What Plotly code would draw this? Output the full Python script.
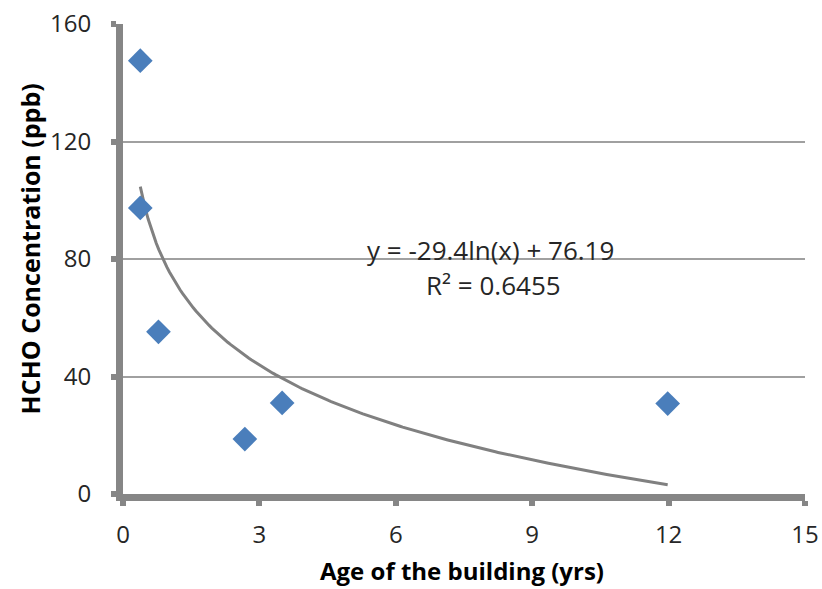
import numpy as np
import plotly.graph_objects as go

# Data
age_yrs = [0.38, 0.38, 0.78, 2.68, 3.5, 11.98]
hcho_ppb = [147.5, 97.4, 55.2, 18.7, 31.0, 30.8]

# Logarithmic trendline coefficients as printed on the chart
trend_a = -29.4
trend_b = 76.19
r_squared = 0.6455

x_ticks = [0, 3, 6, 9, 12, 15]
y_ticks = [0, 40, 80, 120, 160]

x_title = "Age of the building (yrs)"
y_title = "HCHO Concentration (ppb)"

trend_x = np.linspace(min(age_yrs), max(age_yrs), 200)
trend_y = trend_a * np.log(trend_x) + trend_b

AXIS = "#868686"
FONT = "Open Sans"
TXT = "#262626"

fig = go.Figure()
fig.add_trace(go.Scatter(
    x=trend_x, y=trend_y, mode="lines",
    line=dict(color="#808080", width=3), hoverinfo="skip", showlegend=False))
fig.add_trace(go.Scatter(
    x=age_yrs, y=hcho_ppb, mode="markers",
    marker=dict(symbol="diamond", size=19, color="#4A7EBB"),
    showlegend=False))

fig.add_annotation(x=8.09, y=83.0, xref="x", yref="y", showarrow=False,
                   text=f"y = {trend_a}ln(x) + {trend_b}",
                   font=dict(family=FONT, size=26, color=TXT))
fig.add_annotation(x=8.15, y=71.0, xref="x", yref="y", showarrow=False,
                   text=f"R² = {r_squared}",
                   font=dict(family=FONT, size=26, color=TXT))

# Axis titles
fig.add_annotation(x=0.497, y=-0.163, xref="paper", yref="paper",
                   xanchor="center", yanchor="middle", showarrow=False,
                   text=f"<b>{x_title}</b>",
                   font=dict(family=FONT, size=24, color="black"))
fig.add_annotation(x=-0.136, y=0.521, xref="paper", yref="paper",
                   xanchor="center", yanchor="middle", showarrow=False,
                   textangle=-90, text=f"<b>{y_title}</b>",
                   font=dict(family=FONT, size=25, color="black"))

fig.update_layout(
    width=822, height=589,
    margin=dict(l=123, r=17, t=24, b=95),
    paper_bgcolor="white", plot_bgcolor="white",
    font=dict(family=FONT, color=TXT),
    xaxis=dict(
        range=[0, 15], tickvals=x_ticks, showgrid=False, zeroline=False,
        showline=True, linewidth=7, linecolor=AXIS, automargin=False,
        ticks="outside", ticklen=5, tickwidth=6, tickcolor=AXIS,
        tickfont=dict(size=24, family=FONT, color=TXT),
        ticklabelstandoff=8,
    ),
    yaxis=dict(
        range=[0, 160], tickvals=y_ticks, showgrid=True,
        gridcolor="#A0A0A0", gridwidth=1.5, zeroline=False,
        showline=True, linewidth=7, linecolor=AXIS, automargin=False,
        ticks="outside", ticklen=5, tickwidth=6, tickcolor=AXIS,
        tickfont=dict(size=24, family=FONT, color=TXT),
        ticklabelstandoff=15,
    ),
)

fig.write_html("out.html",
               config={"displayModeBar": False},
               post_script="document.body.style.margin='0';document.body.style.overflow='hidden';")
